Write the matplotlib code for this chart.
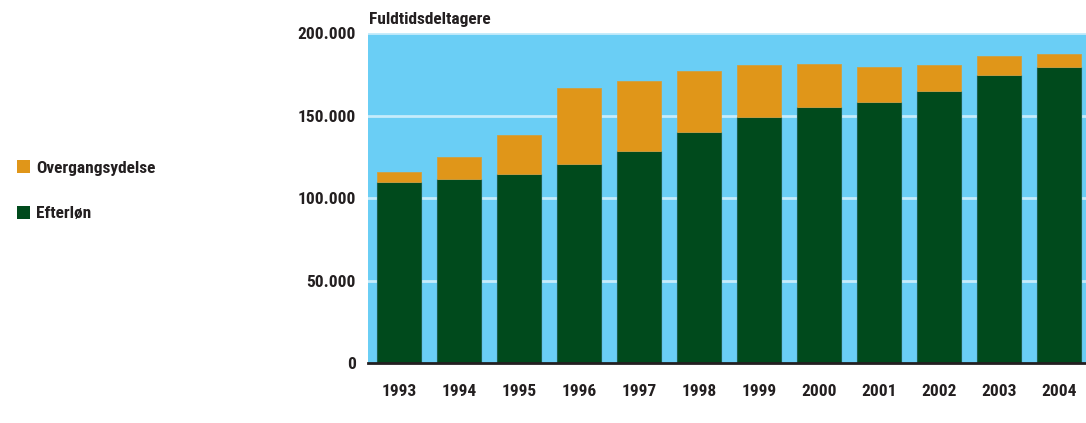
# coding: utf-8
"""Fuldtidsdeltagere paa efterloen og overgangsydelse 1993-2004"""

import matplotlib
matplotlib.use("Agg")
import matplotlib.pyplot as plt
from matplotlib.patches import Patch
from matplotlib import font_manager

years = ["1993", "1994", "1995", "1996", "1997", "1998",
         "1999", "2000", "2001", "2002", "2003", "2004"]
efterloen = [109700, 111500, 114300, 120600, 128300, 140000,
             149300, 155300, 158000, 164600, 174400, 179600]
overgang_total = [115800, 124700, 138200, 166700, 170900, 177000,
                  180600, 181200, 179200, 180600, 186000, 187300]
overgang = [t - e for t, e in zip(overgang_total, efterloen)]

yticks = [0, 50000, 100000, 150000, 200000]
ytick_labels = ["0", "50.000", "100.000", "150.000", "200.000"]

GREEN = "#004a1c"
ORANGE = "#e09619"
SKY = "#6acef5"
INK = "#231f20"
FS = 12.5


def _is_bold(w):
    if isinstance(w, str):
        return w in ("bold", "semibold", "demibold", "heavy", "black")
    return w >= 600


# pick a bold narrow face if one is installed (the original is a
# condensed Frutiger-like bold)
bold_narrow = [f for f in font_manager.fontManager.ttflist
               if _is_bold(f.weight)
               and ("Narrow" in f.name or "Condensed" in f.name
                    or "condensed" in str(f.stretch))]
pref = ["Liberation Sans Narrow", "Roboto Condensed", "DejaVu Sans",
        "Open Sans Condensed", "Noto Sans"]
bold_narrow.sort(key=lambda f: pref.index(f.name) if f.name in pref else 99)

if bold_narrow:
    face = bold_narrow[0]
    plt.rcParams["font.family"] = [face.name, "DejaVu Sans"]
    plt.rcParams["font.stretch"] = face.stretch
else:
    plt.rcParams["font.family"] = ["DejaVu Sans"]
plt.rcParams["font.weight"] = "bold"

fig = plt.figure(figsize=(10.86, 4.23), dpi=100)
ax = fig.add_axes([0.3389, 0.1418, 0.6611, 0.7802])
ax.set_facecolor(SKY)

x = range(len(years))
ax.bar(x, efterloen, width=0.733, color=GREEN, edgecolor="#1d5e4c",
       linewidth=0.8, zorder=3)
ax.bar(x, overgang, bottom=efterloen, width=0.733, color=ORANGE,
       edgecolor="#d0a040", linewidth=0.6, zorder=3)

ax.set_xlim(-0.517, 11.45)
ax.set_ylim(0, 200000)
ax.set_yticks(yticks)
ax.set_yticklabels(ytick_labels, fontsize=FS, color=INK)
ax.set_xticks(list(x))
ax.set_xticklabels(years, fontsize=FS, color=INK)
ax.tick_params(axis="y", length=0, pad=9)
ax.tick_params(axis="x", length=0, pad=15)

for v in yticks[1:]:
    ax.axhline(v, color="#c6ecfb", linewidth=2, zorder=2)

for side in ("top", "right", "left"):
    ax.spines[side].set_visible(False)
ax.spines["bottom"].set_color(INK)
ax.spines["bottom"].set_linewidth(2)
ax.spines["bottom"].set_zorder(4)

fig.text(0.3398, 0.955, "Fuldtidsdeltagere", fontsize=FS,
         color=INK, ha="left", va="center")

handles = [Patch(facecolor=ORANGE, label="Overgangsydelse"),
           Patch(facecolor=GREEN, label="Efterløn")]
fig.legend(handles=handles, loc="upper left", bbox_to_anchor=(0.001, 0.658),
           frameon=False, fontsize=FS, handlelength=0.75, handleheight=0.75,
           handletextpad=0.35, labelspacing=1.75, labelcolor=INK)

fig.savefig("out.png", dpi=100)
